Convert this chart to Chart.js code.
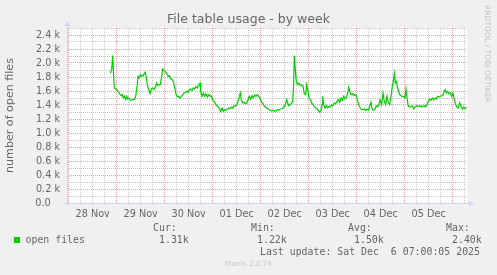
<!DOCTYPE html>
<html>
<head>
<meta charset="utf-8">
<script src="https://cdn.jsdelivr.net/npm/chart.js@4.4.1/dist/chart.umd.min.js"></script>
<style>
html, body { margin: 0; padding: 0; background: #f0f0f0; }
#wrap { width: 497px; height: 275px; }
</style>
</head>
<body>
<div id="wrap"><canvas id="chart" width="497" height="275"></canvas></div>
<script>
// hours since 28 Nov 00:00
var hours = [
    20.8, 21.5, 22.0, 22.3, 22.8, 23.7, 24.5, 25.2, 26.2, 26.8, 27.3, 27.8, 28.5, 29.0, 29.5, 30.2, 30.8, 31.8, 32.8, 33.5,
    34.2, 34.7, 35.2, 35.8, 36.5, 37.2, 37.8, 38.3, 38.8, 39.3, 40.0, 40.7, 41.3, 42.0, 42.7, 43.3, 44.0, 44.5, 45.2, 45.8,
    46.5, 47.0, 47.7, 48.3, 49.0, 49.7, 50.3, 51.0, 51.7, 52.3, 53.0, 53.7, 54.3, 55.0, 55.7, 56.3, 57.0, 57.7, 58.3, 59.0,
    59.7, 60.3, 61.0, 61.7, 62.3, 63.0, 63.7, 64.3, 65.0, 65.65,
    66.0, 66.65, 67.3, 68.0, 68.65, 69.3, 70.0, 70.65, 71.3, 72.0, 72.65, 73.3, 74.0, 74.65, 75.3, 76.0, 76.65, 77.3, 78.0, 78.65,
    79.3, 80.0, 80.65, 81.3, 82.0, 82.65, 83.3, 84.0, 84.65, 85.3, 85.8,
    86.3, 87.0, 87.65, 88.3, 89.0, 89.65, 90.3, 91.0, 91.65, 92.3, 93.0, 93.65, 94.3, 95.0, 95.65, 96.3, 97.0, 97.65, 98.3, 99.0,
    99.65, 100.3, 101.0, 101.65, 102.3, 103.0, 103.65, 104.3, 105.0, 105.65, 106.3, 107.0, 107.65, 108.3, 109.0, 109.5, 110.0, 110.65,
    111.3, 112.0, 112.5, 112.8, 113.3, 113.8, 114.5, 115.15, 115.8, 116.5, 117.15, 117.8, 118.5, 119.0, 119.5,
    120.15, 120.8, 121.5, 122.15, 122.8, 123.5, 124.15, 124.8, 125.5, 126.15, 126.65, 127.0, 127.5,
    128.15, 128.8, 129.5, 130.15, 130.8, 131.5, 132.15, 132.8, 133.5, 134.15, 134.8, 135.5, 136.15, 136.8, 137.5, 138.15, 138.8, 139.5,
    140.0, 140.5,
    141.15, 141.8, 142.5, 143.15, 143.8, 144.5, 145.15, 145.8, 146.5, 147.15, 147.8, 148.5, 149.15, 149.8, 150.5, 151.15, 151.8,
    152.5, 153.15, 153.8, 154.5, 155.15, 155.65,
    156.5, 157.15, 157.8, 158.5, 159.15, 159.8, 160.5, 161.15, 161.8, 162.3, 162.8, 163.3, 163.8, 164.3, 164.8,
    165.5, 166.15, 166.8, 167.5, 168.15, 168.65, 169.15,
    169.8, 170.5, 171.15, 171.8, 172.5, 173.15, 173.8, 174.5, 175.15, 175.8, 176.5, 177.15, 177.8, 178.5, 179.15, 179.8,
    180.5, 181.15, 181.8, 182.5, 183.15, 183.8, 184.5, 185.15, 185.8, 186.5, 187.15, 187.8, 188.3, 188.8,
    189.5, 190.15, 190.8, 191.5, 192.15, 192.8, 193.5, 194.15, 194.8, 195.5, 196.15, 196.8, 197.5, 198.15, 198.8
];

var openFiles = [
    1857, 1905, 2105, 1905, 1643, 1629, 1595, 1571, 1533, 1548, 1500, 1524, 1476, 1524, 1486, 1500, 1467, 1476, 1476, 1524,
    1667, 1810, 1786, 1833, 1810, 1819, 1848, 1867, 1786, 1690, 1619, 1562, 1629, 1643, 1619, 1657, 1714, 1676, 1690, 1690,
    1810, 1914, 1895, 1881, 1848, 1810, 1819, 1771, 1762, 1738, 1643, 1548, 1514, 1524, 1500, 1524, 1548, 1571, 1581, 1595,
    1581, 1619, 1629, 1610, 1643, 1629, 1667, 1643, 1690, 1714,
    1595, 1524, 1571, 1524, 1562, 1514, 1548, 1524, 1533, 1476, 1452, 1419, 1390, 1381, 1357, 1310, 1357, 1310, 1333, 1324,
    1343, 1357, 1343, 1371, 1357, 1390, 1381, 1405, 1452, 1524, 1571,
    1476, 1429, 1438, 1419, 1429, 1476, 1524, 1486, 1533, 1500, 1543, 1524, 1548, 1524, 1500, 1452, 1419, 1390, 1371, 1357,
    1343, 1333, 1324, 1314, 1324, 1310, 1319, 1333, 1324, 1343, 1343, 1352, 1371, 1405, 1476, 1429, 1390, 1405,
    1419, 1452, 1714, 2105, 1905, 1738, 1690, 1714, 1676, 1690, 1667, 1562, 1548, 1690, 1619,
    1500, 1476, 1429, 1405, 1381, 1357, 1343, 1324, 1295, 1324, 1405, 1524, 1405,
    1357, 1390, 1357, 1381, 1371, 1405, 1390, 1429, 1419, 1452, 1476, 1438, 1500, 1467, 1524, 1486, 1500, 1571,
    1652, 1595,
    1548, 1562, 1533, 1548, 1533, 1452, 1390, 1357, 1333, 1333, 1343, 1324, 1343, 1324, 1381, 1438, 1333,
    1324, 1343, 1390, 1371, 1405, 1476,
    1405, 1571, 1452, 1405, 1524, 1429, 1405, 1524, 1667, 1738, 1848, 1714, 1738, 1667, 1610,
    1548, 1533, 1524, 1524, 1500, 1629, 1500,
    1381, 1371, 1381, 1390, 1343, 1371, 1381, 1390, 1381, 1390, 1371, 1381, 1390, 1371, 1405, 1452,
    1486, 1467, 1500, 1476, 1500, 1486, 1524, 1514, 1524, 1533, 1548, 1595, 1619, 1571,
    1595, 1562, 1571, 1524, 1571, 1476, 1405, 1371, 1357, 1429, 1381, 1343, 1371, 1343, 1371
];

var dayLabels = ["28 Nov", "29 Nov", "30 Nov", "01 Dec", "02 Dec", "03 Dec", "04 Dec", "05 Dec"];
var seriesName = "open files";
var statNames = ["Cur:", "Min:", "Avg:", "Max:"];
var statValues = ["1.31k", "1.22k", "1.50k", "2.40k"];
var lastUpdate = "Last update: Sat Dec  6 07:00:05 2025";

if (hours.length !== openFiles.length) {
    console.error("length mismatch " + hours.length + " / " + openFiles.length);
}

var FONT = '"DejaVu Sans", sans-serif';
var MONO = '"DejaVu Sans Mono", monospace';
var GRID = '#c8c8c8';
var MGRID = '#f09c9c';
var AXIS = '#cfd6f8';

// background, frame text, axes with arrows and the legend block
var muninDecor = {
    id: 'muninDecor',
    beforeDraw: function (chart) {
        var ctx = chart.ctx, a = chart.chartArea;
        ctx.save();
        ctx.fillStyle = '#f0f0f0';
        ctx.fillRect(0, 0, chart.width, chart.height);
        ctx.fillStyle = '#ffffff';
        ctx.fillRect(a.left, a.top, a.right - a.left, a.bottom - a.top);
        ctx.restore();
    },
    afterDraw: function (chart) {
        var ctx = chart.ctx, a = chart.chartArea;
        ctx.save();

        // axes
        ctx.strokeStyle = AXIS;
        ctx.fillStyle = AXIS;
        ctx.lineWidth = 1;
        ctx.beginPath();
        ctx.moveTo(a.left + 0.5, a.bottom + 3);
        ctx.lineTo(a.left + 0.5, a.top - 3);
        ctx.moveTo(a.left - 3, a.bottom + 0.5);
        ctx.lineTo(a.right + 3, a.bottom + 0.5);
        ctx.stroke();
        ctx.beginPath();
        ctx.moveTo(a.left - 2.5, a.top - 2);
        ctx.lineTo(a.left + 3.5, a.top - 2);
        ctx.lineTo(a.left + 0.5, a.top - 7);
        ctx.closePath();
        ctx.fill();
        ctx.beginPath();
        ctx.moveTo(a.right + 2, a.bottom - 2.5);
        ctx.lineTo(a.right + 2, a.bottom + 3.5);
        ctx.lineTo(a.right + 7, a.bottom + 0.5);
        ctx.closePath();
        ctx.fill();

        // title
        ctx.fillStyle = '#666666';
        ctx.textBaseline = 'middle';
        ctx.textAlign = 'center';
        ctx.font = '12.5px ' + FONT;
        ctx.fillText("File table usage - by week", chart.width / 2, 19.5);

        // vertical axis label
        ctx.save();
        ctx.translate(10.5, (a.top + a.bottom) / 2);
        ctx.rotate(-Math.PI / 2);
        ctx.font = '11.1px ' + FONT;
        ctx.fillText("number of open files", 0, 0);
        ctx.restore();

        // watermark on the right
        ctx.save();
        ctx.translate(487, 5);
        ctx.rotate(Math.PI / 2);
        ctx.textAlign = 'left';
        ctx.fillStyle = '#c4c4c4';
        ctx.font = '7.6px ' + FONT;
        ctx.fillText("RRDTOOL / TOBI OETIKER", 0, 0);
        ctx.restore();

        // legend block
        ctx.textAlign = 'left';
        ctx.font = '9.9px ' + MONO;
        ctx.fillStyle = '#00cc00';
        ctx.fillRect(14, 237, 6, 6);
        ctx.fillStyle = '#666666';
        ctx.fillText(seriesName, 25.5, 240.5);
        var nameX = [153, 251, 348, 446];
        var valX = [159, 257, 354, 452];
        for (var i = 0; i < statNames.length; i++) {
            ctx.fillText(statNames[i], nameX[i], 228);
            ctx.fillText(statValues[i], valX[i], 240.5);
        }
        ctx.fillText(lastUpdate, 260, 252);

        ctx.textAlign = 'center';
        ctx.fillStyle = '#c8c8c8';
        ctx.font = '7.2px ' + FONT;
        ctx.fillText("Munin 2.0.76", chart.width / 2, 264);

        ctx.restore();
    }
};

function gridColor(context) {
    return context.tick && context.tick.major ? MGRID : GRID;
}

var points = hours.map(function (h, i) {
    return { x: h, y: openFiles[i] };
});

var chart = new Chart(document.getElementById("chart"), {
    type: 'line',
    data: {
        datasets: [{
            label: seriesName,
            data: points,
            borderColor: '#00cc00',
            borderWidth: 1.2,
            pointRadius: 0,
            tension: 0,
            fill: false
        }]
    },
    options: {
        responsive: false,
        animation: false,
        devicePixelRatio: 1,
        layout: { padding: { left: 0, right: 30, top: 28, bottom: 0 } },
        plugins: {
            legend: { display: false },
            tooltip: { enabled: false },
            title: { display: false }
        },
        scales: {
            x: {
                type: 'linear',
                min: -0.85,
                max: 199.15,
                afterBuildTicks: function (scale) {
                    var t = [];
                    for (var h = 0; h < 199; h += 6) {
                        t.push({ value: h, major: h % 24 === 0 });
                    }
                    scale.ticks = t;
                },
                afterFit: function (scale) { scale.height = 72; },
                grid: {
                    color: gridColor,
                    lineWidth: 1,
                    drawTicks: false
                },
                border: { display: false, dash: [1, 1] },
                ticks: {
                    autoSkip: false,
                    maxRotation: 0,
                    padding: 6,
                    color: '#666666',
                    font: { family: FONT, size: 9.7 },
                    callback: function (value) {
                        return value % 24 === 12 ? dayLabels[Math.floor(value / 24)] : '';
                    }
                }
            },
            y: {
                type: 'linear',
                min: 0,
                max: 2500,
                afterBuildTicks: function (scale) {
                    var t = [];
                    for (var v = 0; v <= 2500; v += 100) {
                        t.push({ value: v, major: v % 200 === 0 });
                    }
                    scale.ticks = t;
                },
                afterFit: function (scale) { scale.width = 67; },
                grid: {
                    color: gridColor,
                    lineWidth: 1,
                    drawTicks: false
                },
                border: { display: false, dash: [1, 1] },
                ticks: {
                    autoSkip: false,
                    padding: 7,
                    color: '#666666',
                    font: { family: FONT, size: 9.7 },
                    callback: function (value) {
                        if (value % 200 !== 0) return '';
                        return value === 0 ? '0.0   ' : (value / 1000).toFixed(1) + ' k';
                    }
                }
            }
        }
    },
    plugins: [muninDecor]
});
</script>
</body>
</html>
